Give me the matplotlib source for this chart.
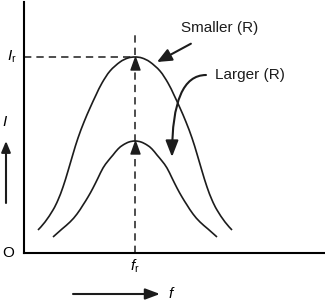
import matplotlib as mpl
mpl.rcParams.update({'font.family': 'Liberation Sans', 'font.size': 11,
                     'mathtext.fontset': 'custom',
                     'mathtext.it': 'Liberation Sans:italic',
                     'mathtext.rm': 'Liberation Sans'})
from matplotlib import pyplot as plt
from matplotlib.path import Path
from matplotlib.patches import PathPatch

# resonance point
F_R = 111
I_R = 196

# curves (f, I)
big_f = [14, 21, 29, 34, 39, 44, 49, 54, 60, 66, 72, 78, 86, 96, 104, 111,
         118, 126, 136, 144, 150, 156, 162, 168, 173, 178, 183, 188, 193, 201, 208]
big_i = [23, 31, 43, 53, 66, 82, 99, 115, 131, 145, 158, 170, 182, 191, 195, 196,
         195, 191, 182, 170, 158, 145, 131, 115, 99, 82, 66, 53, 43, 31, 23]

small_f = [29, 38, 46, 53, 59, 64, 69, 74, 79, 84, 89, 94, 99, 105, 111,
           117, 123, 128, 133, 138, 143, 148, 153, 158, 163, 169, 176, 184, 193]
small_i = [16, 24, 31, 39, 48, 56, 65, 75, 85, 92, 98, 104, 108, 111, 112,
           111, 108, 104, 98, 92, 85, 75, 65, 56, 48, 39, 31, 24, 16]

peak_f = [F_R, F_R]
peak_i = [max(big_i), max(small_i)]

black = '#1c1c1c'


def smooth_path(xs, ys):
    # catmull-rom through the read points, drawn as cubic beziers
    pts = list(zip(xs, ys))
    verts = [pts[0]]
    codes = [Path.MOVETO]
    n = len(pts)
    for i in range(n - 1):
        p0 = pts[max(i - 1, 0)]
        p1 = pts[i]
        p2 = pts[i + 1]
        p3 = pts[min(i + 2, n - 1)]
        c1 = (p1[0] + (p2[0] - p0[0]) / 6, p1[1] + (p2[1] - p0[1]) / 6)
        c2 = (p2[0] - (p3[0] - p1[0]) / 6, p2[1] - (p3[1] - p1[1]) / 6)
        verts += [c1, c2, p2]
        codes += [Path.CURVE4] * 3
    return Path(verts, codes)


def plot():
    fig = plt.figure(figsize=(3.25, 3.01), dpi=100)
    ax = fig.add_axes([24 / 325, 48 / 301, 301 / 325, 251 / 301])
    ax.set_xlim(0, 301)
    ax.set_ylim(0, 251)
    for s in ('top', 'right'):
        ax.spines[s].set_visible(False)
    for s in ('left', 'bottom'):
        ax.spines[s].set_linewidth(1.5)
    ax.set_xticks([])
    ax.set_yticks([])

    ax.add_patch(PathPatch(smooth_path(big_f, big_i), fill=False,
                           edgecolor=black, lw=1.2))
    ax.add_patch(PathPatch(smooth_path(small_f, small_i), fill=False,
                           edgecolor=black, lw=1.2))

    # dashed guides
    ax.plot([F_R, F_R], [0, 220], color=black, lw=1.1, dashes=(4.8, 3.3))
    ax.plot([0, F_R], [I_R, I_R], color=black, lw=1.1, dashes=(4.8, 3.3))

    # arrow heads at the peaks
    tri = [(0, 0), (-0.36, -1), (0.36, -1), (0, 0)]
    ax.plot(peak_f, peak_i, ls='none', marker=tri, ms=18, color=black,
            clip_on=False)

    ax.annotate("Smaller (R)", xy=(133, 191), xytext=(196, 225),
                ha='center', va='center', color=black,
                arrowprops=dict(arrowstyle='-|>,head_length=0.8,head_width=0.35',
                                color=black, lw=1.5, shrinkA=9, shrinkB=0))
    ax.text(226, 178, "Larger (R)", ha='center', va='center', color=black)
    ax.annotate("", xy=(148, 96), xytext=(182, 178),
                arrowprops=dict(arrowstyle='-|>,head_length=0.9,head_width=0.35',
                                color=black, lw=1.5, shrinkA=0, shrinkB=0,
                                connectionstyle='angle3,angleA=180,angleB=90'))

    # axis labels outside the frame
    ax.text(-12, I_R, r"$I_\mathrm{r}$", ha='center', va='center', fontsize=11)
    ax.text(-19, 131, r"$I$", ha='center', va='center', fontsize=11)
    ax.annotate("", xy=(-18, 112), xytext=(-18, 50), annotation_clip=False,
                arrowprops=dict(arrowstyle='-|>,head_length=0.6,head_width=0.25',
                                color=black, lw=1.5, shrinkA=0, shrinkB=0))
    ax.text(-16, 0, "O", ha='center', va='center', fontsize=11)
    ax.text(F_R, -13, r"$f_\mathrm{r}$", ha='center', va='center', fontsize=11)
    ax.annotate("", xy=(136, -41), xytext=(49, -41), annotation_clip=False,
                arrowprops=dict(arrowstyle='-|>,head_length=0.8,head_width=0.3',
                                color=black, lw=1.5, shrinkA=0, shrinkB=0))
    ax.text(148, -41, r"$f$", ha='center', va='center', fontsize=11)

    fig.savefig("out.png", dpi=100)


plot()
